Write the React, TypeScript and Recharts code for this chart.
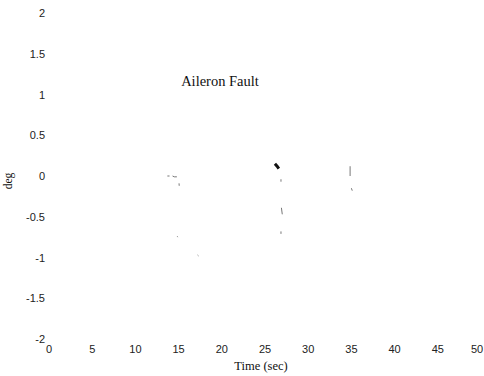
import React from "react"
import { LineChart, Line, XAxis, YAxis } from "recharts"

// time axis and deflection axis ticks
const timeTicks = [0, 5, 10, 15, 20, 25, 30, 35, 40, 45, 50]
const degTicks = [-2, -1.5, -1, -0.5, 0, 0.5, 1, 1.5, 2]

// what is left of the faded trace: pairs of points, null breaks between pieces
const faintTime = [13.7, 13.95, 14.05, 14.3, 14.5, 14.8, 14.9, 15.05, 15.07, 15.0, 14.85, 14.9, 16, 17.2, 17.3, 20, 26.85, 26.85, 26.9, 26.9, 27.0, 26.95, 26.85, 26.85, 30, 34.85, 34.85, 34.95, 35.0, 35.1, 35.25, 35.3]
const faintDeg = [0.0, 0.0, null, 0.0, -0.01, -0.01, null, -0.09, -0.12, null, -0.74, -0.75, null, -0.97, -0.98, null, -0.04, -0.07, null, -0.39, -0.47, null, -0.68, -0.71, null, 0.12, 0.0, null, -0.15, -0.18, null, -0.38, -0.42]
const boldTime = [26.15, 26.4, 26.6]
const boldDeg = [0.15, 0.12, 0.09]

const faint = faintTime.map((t, i) => ({ t, v: faintDeg[i] }))
const bold = boldTime.map((t, i) => ({ t, v: boldDeg[i] }))

const sans = "'Liberation Sans', Arial, sans-serif"
const serif = "'Liberation Serif', 'Times New Roman', serif"

const fmt = (v: number) => String(v)

function XTick(props: any) {
  const { x, y, payload } = props
  // keep the last label inside the frame, as in the scan
  const cx = Math.min(x, 477)
  return (
    <text x={cx} y={y + 14} textAnchor="middle" fontFamily={sans} fontSize={11} fill="#222">
      {fmt(payload.value)}
    </text>
  )
}

function YTick(props: any) {
  const { x, y, payload } = props
  return (
    <text x={x - 4} y={y + 4} textAnchor="end" fontFamily={sans} fontSize={11} fill="#222">
      {fmt(payload.value)}
    </text>
  )
}

export default function App() {
  return (
    <div style={{ position: "relative", width: 484, height: 376, background: "#fff" }}>
      <style>{`body{margin:0}`}</style>
      <LineChart width={484} height={376} margin={{ top: 13, right: 3, bottom: 0, left: 0 }}>
        <XAxis
          type="number"
          dataKey="t"
          domain={[0, 50]}
          ticks={timeTicks}
          axisLine={false}
          tickLine={false}
          tickSize={0}
          tickMargin={0}
          height={37}
          tick={<XTick />}
          interval={0}
        />
        <YAxis
          type="number"
          domain={[-2, 2]}
          ticks={degTicks}
          axisLine={false}
          tickLine={false}
          tickSize={0}
          tickMargin={0}
          width={49}
          tick={<YTick />}
          interval={0}
        />
        <Line
          data={faint}
          dataKey="v"
          stroke="#777"
          strokeWidth={1}
          dot={false}
          connectNulls={false}
          isAnimationActive={false}
        />
        <Line
          data={bold}
          dataKey="v"
          stroke="#111"
          strokeWidth={3}
          dot={false}
          isAnimationActive={false}
        />
      </LineChart>
      <div style={{ position: "absolute", left: 150, top: 73, width: 140, textAlign: "center", fontFamily: serif, fontSize: 14.5, color: "#111" }}>
        Aileron Fault
      </div>
      <div style={{ position: "absolute", left: 201, top: 359, width: 120, textAlign: "center", fontFamily: serif, fontSize: 12.5, color: "#111" }}>
        Time (sec)
      </div>
      <div style={{ position: "absolute", left: -12, top: 175, width: 40, textAlign: "center", fontFamily: serif, fontSize: 11.5, color: "#111", transform: "rotate(-90deg)" }}>
        deg
      </div>
    </div>
  )
}
